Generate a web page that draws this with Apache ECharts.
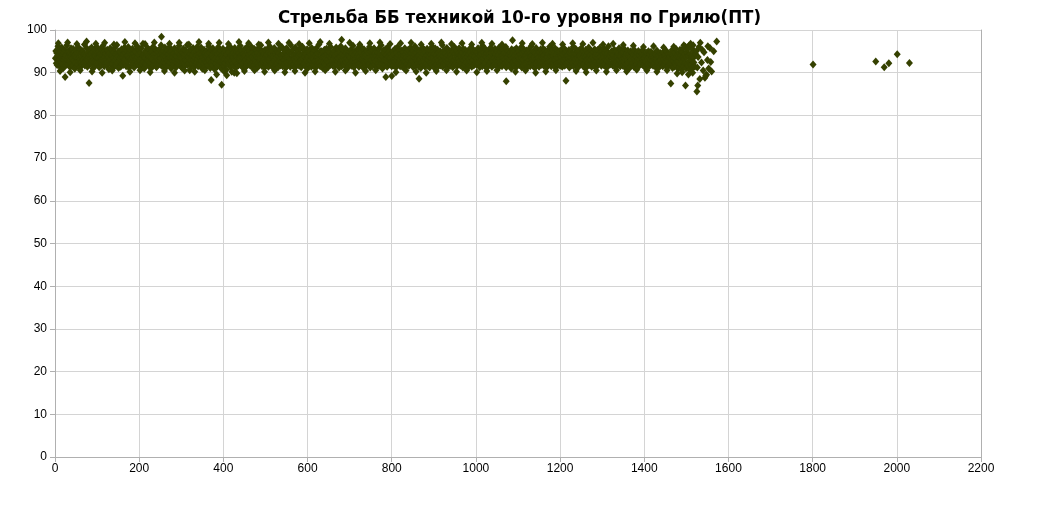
<!DOCTYPE html>
<html><head><meta charset="utf-8">
<script src="https://cdn.jsdelivr.net/npm/echarts@6/dist/echarts.min.js"></script>
<style>html,body{margin:0;padding:0;background:#fff}#c{width:1039px;height:508px}</style>
</head><body><div id="c"></div>
<script>
var titleText = 'Стрельба ББ техникой 10-го уровня по Грилю(ПТ)';
var xTicks = [0,200,400,600,800,1000,1200,1400,1600,1800,2000,2200];
var yTicks = [0,10,20,30,40,50,60,70,80,90,100];

// sequential shots 1..400
var seg1 = [93.4,95.1,92.2,94.6,91.8,93.9,96.2,92.7,94.1,93.0,95.5,91.4,94.8,92.5,93.6,95.9,92.0,94.3,93.2,91.1,
94.7,92.9,95.3,93.5,91.7,94.0,92.4,96.4,93.1,94.9,91.9,93.7,95.0,92.6,94.4,91.3,93.8,95.7,92.1,94.2,
93.3,91.6,95.6,92.8,94.5,93.9,90.9,94.1,92.3,95.2,93.6,91.5,94.7,92.0,96.0,93.4,92.6,94.9,91.2,93.1,
95.4,92.5,93.8,94.6,91.8,95.1,93.0,92.2,94.3,96.6,91.7,93.5,94.0,92.7,95.8,93.2,91.4,94.8,92.9,93.7,
94.2,91.9,95.5,93.3,92.1,94.4,95.9,92.8,93.6,91.0,94.9,93.1,92.4,95.3,93.9,91.6,94.6,92.3,96.1,93.5,
92.0,94.7,93.4,95.0,91.3,93.8,94.3,92.6,95.6,93.0,91.8,94.1,92.9,96.3,93.3,94.8,91.5,93.7,95.2,92.2,
94.5,93.1,91.7,95.4,92.4,94.0,93.6,90.8,94.6,92.7,95.7,93.2,91.9,94.2,93.9,92.1,95.1,93.4,91.2,94.8,
92.6,95.8,93.0,94.3,91.6,93.5,96.5,92.3,94.7,93.8,91.1,95.0,92.8,93.3,94.9,91.4,93.7,95.5,92.0,94.1,
93.6,91.8,94.4,92.5,95.9,93.1,94.6,92.2,91.5,95.2,93.9,92.7,94.0,96.0,91.3,93.4,94.8,92.9,95.3,93.0,
91.7,94.2,92.4,95.6,93.5,92.0,94.5,91.2,93.8,95.0,92.6,94.9,93.2,91.9,96.2,93.6,92.3,94.3,91.6,95.4,
93.1,92.8,94.7,91.4,95.7,93.3,92.1,94.0,96.8,92.5,93.9,91.0,94.6,93.4,95.1,92.2,91.8,94.4,93.0,95.8,
92.7,94.1,91.5,93.7,95.3,92.4,94.8,93.5,91.1,95.0,92.9,93.2,96.1,91.7,94.3,92.6,95.6,93.8,92.0,94.5,
91.3,95.2,93.6,92.3,94.9,93.0,91.9,95.5,92.8,94.2,93.4,96.4,91.6,94.7,92.1,93.9,95.0,92.5,91.2,94.0,
95.9,92.2,93.7,94.6,91.4,93.1,95.4,92.7,94.4,91.8,93.5,96.0,92.4,94.8,93.3,91.0,95.1,92.9,94.1,93.6,
92.0,94.5,91.7,95.7,93.2,92.6,94.0,91.3,93.8,95.3,92.3,94.7,93.0,91.9,96.3,92.8,94.2,93.5,91.5,95.0,
93.4,91.1,94.8,92.5,95.6,93.9,92.1,94.3,91.6,95.2,93.1,92.7,94.6,96.5,91.8,93.6,94.9,92.2,93.3,90.6,
94.4,92.9,95.5,91.4,93.7,94.1,92.3,95.8,93.0,91.2,94.7,92.6,93.5,95.1,91.9,94.0,92.4,96.1,93.2,91.5,
95.3,93.8,92.0,94.5,91.7,93.3,95.9,92.8,94.2,90.9,93.6,94.9,92.1,95.4,93.1,91.3,94.6,92.7,93.9,95.0,
92.4,94.3,91.6,93.0,96.2,92.9,94.7,93.4,91.1,95.5,92.3,93.8,94.1,91.8,95.7,93.5,92.6,94.8,90.8,93.2,
94.9,92.1,95.1,93.7,91.4,94.4,92.8,96.0,93.3,91.9,94.6,92.5,95.2,93.9,91.0,94.0,92.2,93.6,95.6,92.7];

// shots 401..800
var seg2 = [93.2,91.6,94.5,92.3,95.0,93.7,90.7,94.2,92.8,95.6,93.1,91.9,94.8,92.4,93.5,96.1,91.3,94.0,92.7,93.9,
95.3,92.1,93.6,94.7,91.5,93.0,95.8,92.6,94.3,91.2,93.8,94.9,92.0,95.4,93.3,91.7,94.6,92.9,93.4,96.3,
91.8,94.1,92.5,95.2,93.6,92.2,94.4,91.0,93.9,95.5,92.7,94.0,93.1,91.4,95.9,92.3,94.7,93.5,91.9,94.2,
92.8,95.1,93.3,91.6,94.5,92.0,96.0,93.7,91.3,94.8,92.6,93.2,95.6,91.8,94.3,93.0,92.4,95.3,93.8,91.1,
94.6,92.2,93.5,95.7,91.7,94.1,92.9,93.4,96.4,92.1,94.9,91.5,93.6,95.0,92.5,94.4,93.1,91.2,95.4,92.7,
93.9,91.9,94.2,92.4,95.5,93.0,91.4,94.7,92.8,96.2,93.3,92.0,94.5,91.6,93.7,95.2,92.3,94.0,93.6,91.0,
95.8,92.6,93.1,94.3,91.8,93.5,95.1,92.2,94.8,91.3,93.9,94.6,92.7,95.6,93.2,91.7,94.1,92.5,96.0,93.4,
91.5,94.4,92.9,95.3,93.0,92.1,94.9,91.1,93.6,95.7,92.4,94.2,93.8,91.9,95.0,92.8,93.3,94.7,91.4,96.5,
93.1,92.3,94.6,91.7,95.4,93.7,92.0,94.0,93.2,91.2,95.9,92.6,94.5,93.5,91.8,94.8,92.2,95.1,93.9,91.6,
94.3,92.7,95.6,93.0,91.3,94.1,92.5,96.1,93.4,91.9,94.7,92.1,93.8,95.2,91.5,94.4,93.3,92.8,95.5,91.0,
93.6,94.9,92.4,91.8,95.0,93.1,92.9,94.2,91.4,95.8,93.5,92.0,94.6,93.2,91.6,95.3,92.6,94.0,93.9,91.2,
95.7,92.3,93.7,94.5,91.9,93.0,96.6,92.2,94.8,91.5,93.4,95.1,92.7,94.3,93.6,91.1,94.9,92.5,93.8,95.4,
92.1,94.0,91.7,93.3,95.6,92.8,94.4,93.1,91.3,95.0,92.4,93.9,94.7,91.8,96.0,93.5,92.0,94.2,92.9,91.6,
94.6,93.2,95.2,91.4,93.8,94.1,92.3,95.9,93.0,91.9,94.5,92.6,93.4,95.5,91.2,94.8,92.2,93.7,96.2,92.7,
91.5,94.3,92.9,95.3,93.6,92.0,94.0,91.7,93.1,95.7,92.5,94.6,93.3,91.0,95.1,92.8,94.2,93.9,91.8,94.9,
93.5,92.1,95.4,91.6,94.4,93.0,92.7,96.3,93.7,91.3,94.1,92.4,95.0,93.2,91.9,94.7,92.6,93.8,95.6,92.0,
94.3,91.4,93.6,95.2,92.2,94.8,93.1,91.7,95.8,92.9,93.4,94.0,91.1,95.5,92.5,94.5,93.9,92.3,91.6,94.2,
92.8,95.1,93.3,91.8,94.6,92.0,96.0,93.5,91.2,94.9,92.6,93.0,95.3,91.5,94.1,93.7,92.4,95.7,93.2,91.9,
94.4,92.7,93.9,95.0,91.3,93.1,94.7,92.1,95.6,93.6,91.6,94.3,92.9,93.4,96.4,92.2,94.0,91.0,93.8,95.2,
92.5,94.6,93.0,91.7,95.5,92.8,94.1,93.3,91.4,95.9,92.3,93.7,94.8,91.9,95.1,93.5,92.0,94.4,92.6,91.5];

// shots 801..1200
var seg3 = [93.8,92.4,95.0,91.7,94.3,93.1,92.6,95.6,93.4,91.2,94.7,92.9,93.6,96.0,91.9,94.1,92.2,95.3,93.0,91.5,
94.5,93.7,92.0,95.2,91.4,93.3,94.8,92.7,93.9,91.0,95.7,92.5,94.2,93.5,91.8,94.9,92.1,93.2,95.4,92.8,
91.6,94.0,93.4,95.8,92.3,91.9,94.6,93.0,92.6,95.1,91.3,93.7,94.4,92.0,96.2,93.3,91.7,94.7,92.9,93.6,
95.5,92.2,93.9,91.5,94.1,92.8,95.0,93.2,91.1,94.5,92.4,93.8,95.9,91.8,94.3,93.0,92.6,95.3,91.4,94.8,
93.5,92.1,94.0,95.6,91.6,93.1,92.9,94.6,93.7,91.2,95.2,92.3,94.2,93.4,91.9,96.1,92.7,93.6,94.9,91.3,
94.4,92.5,95.7,93.0,91.8,94.1,92.0,93.3,95.4,92.8,91.5,94.7,93.8,92.2,95.0,91.7,93.5,94.3,92.6,96.5,
91.4,93.9,94.8,92.3,95.3,93.2,91.9,94.5,92.7,93.6,95.8,91.1,94.0,92.4,93.1,95.1,92.1,94.6,93.7,91.6,
94.2,92.9,93.4,95.5,91.3,94.9,92.5,93.0,96.0,91.8,94.3,93.5,92.2,95.2,91.5,93.8,94.4,92.0,93.3,95.7,
92.6,94.1,91.7,93.9,95.0,92.3,94.7,93.1,91.2,95.6,92.8,93.6,94.0,91.9,95.3,93.4,92.4,94.5,91.0,93.7,
95.1,92.0,94.3,93.2,91.6,94.8,92.7,95.9,93.5,91.4,94.2,92.9,93.0,95.4,91.7,94.6,93.8,92.1,95.0,92.5,
93.3,91.8,94.9,92.4,95.7,93.6,92.2,94.1,91.3,93.9,95.2,92.6,94.4,93.1,91.5,96.3,92.8,93.4,94.7,91.9,
94.0,92.3,95.5,93.7,91.1,94.5,92.9,93.2,95.1,91.6,94.2,93.5,92.0,95.8,92.5,93.9,94.6,91.4,93.0,95.3,
92.7,94.8,91.8,93.4,95.6,92.1,94.3,93.0,91.7,95.0,92.6,93.6,94.1,91.2,95.9,93.3,92.4,94.9,92.0,93.8,
95.4,91.5,94.0,92.8,93.5,95.2,91.9,94.6,93.1,92.3,96.0,91.3,94.4,92.7,93.7,95.1,92.2,94.2,91.6,93.2,
94.7,92.9,93.9,91.0,95.5,93.4,92.1,94.8,92.5,93.6,95.3,91.7,94.0,93.0,92.6,95.7,91.4,94.5,92.3,93.8,
92.0,95.0,93.3,91.8,94.3,92.8,95.9,93.5,91.2,94.6,92.4,93.1,95.6,91.6,94.9,93.7,92.2,94.1,91.9,95.2,
93.4,91.3,94.7,92.6,95.4,93.0,92.0,94.4,91.5,93.8,96.2,92.3,94.0,93.2,91.7,95.0,92.9,93.6,94.8,91.1,
94.5,92.1,95.8,93.4,91.9,94.2,92.7,93.5,95.1,91.4,94.9,93.0,92.5,95.5,91.8,93.7,94.3,92.2,93.9,95.6,
91.6,94.1,92.8,95.3,93.3,92.0,94.6,91.2,93.6,95.0,92.4,94.4,93.1,91.9,96.1,92.6,94.0,93.8,91.5,94.7,
93.0,95.4,92.3,93.9,91.7,94.5,92.9,95.7,93.2,91.3,94.2,92.1,93.5,95.2,91.8,94.8,93.4,92.5,95.0,91.6];

// shots 1201..1520
var seg4 = [94.1,92.6,93.7,95.5,91.4,94.3,92.2,93.0,95.8,92.8,91.6,94.6,93.3,92.0,95.1,93.8,91.9,94.0,92.5,93.4,
95.3,91.2,94.8,92.9,93.6,95.0,91.7,94.2,93.1,92.3,96.0,91.5,93.9,94.5,92.7,93.2,95.6,91.8,94.4,92.1,
93.5,94.9,91.3,93.0,95.2,92.4,94.1,93.7,91.9,95.7,92.6,93.3,94.7,91.6,95.0,92.0,93.8,94.3,91.1,93.6,
95.4,92.8,94.0,93.2,91.5,94.6,92.3,95.9,93.4,91.8,94.2,92.9,93.1,95.1,91.4,94.5,93.6,92.2,94.8,91.7,
93.0,95.5,92.5,93.9,91.2,94.4,92.7,93.5,95.3,91.9,94.1,93.3,92.1,95.8,92.6,93.7,94.9,91.6,93.2,95.0,
92.4,94.3,91.8,93.6,95.6,92.0,94.7,93.1,91.3,95.2,92.8,93.8,94.5,91.5,96.2,93.4,92.3,94.0,91.9,93.9,
94.6,92.2,95.1,93.3,91.7,94.2,92.5,93.0,95.4,91.4,94.8,93.5,92.0,95.0,92.7,93.6,94.4,91.8,93.1,95.7,
92.9,94.1,91.5,93.8,95.3,92.3,94.6,93.2,91.6,94.9,92.6,93.4,95.5,91.3,94.0,93.7,92.1,94.5,91.9,93.0,
95.2,92.4,93.9,94.3,91.1,93.5,92.8,95.0,93.1,91.7,94.7,92.2,93.6,94.2,91.4,95.4,92.9,93.3,94.0,91.8,
93.7,92.0,94.6,92.7,93.2,95.1,91.5,94.1,93.0,92.3,94.8,91.9,93.5,94.4,92.5,93.1,95.3,91.6,94.2,92.8,
93.4,91.3,94.0,92.6,93.8,94.7,91.8,93.2,92.1,95.0,93.6,91.5,94.3,92.4,93.0,94.9,91.9,93.7,92.7,94.1,
91.6,93.5,92.2,94.5,93.1,91.4,94.2,92.9,93.3,95.2,91.7,93.8,92.5,94.0,91.2,93.6,92.8,94.6,93.0,91.9,
94.3,92.3,93.7,91.5,94.8,93.2,92.0,93.9,91.8,94.1,92.6,93.4,95.0,91.3,93.1,92.7,94.4,91.6,93.5,92.1,
93.8,91.9,94.5,92.4,93.0,95.3,91.1,94.0,92.8,93.6,91.4,94.7,92.2,93.3,95.6,91.7,93.9,92.5,94.2,90.9,
92.7,94.6,91.3,93.4,95.4,92.0,94.1,93.1,90.8,94.9,92.5,93.7,95.8,91.5,93.2,94.4,92.3,96.1,91.0,93.6,
94.8,92.1,95.5,91.6,93.9,96.3,92.6,90.7,94.3,93.0,91.8,95.7,92.9,94.0,91.2,96.4,93.5,92.4,95.0,91.4];

var tail = [[1522,94.3],[1524,95.1],[1526,91.2],[1528,93.7],[1530,96.0],[1533,97.0],[1536,92.4],[1538,95.3],[1540,90.5],[1542,94.8],[1544,88.8],[1548,89.5],[1550,93.0],[1551,96.2],[1553,91.0],[1556,95.8],[1558,92.5],[1560,90.3],[1565,95.0],[1572,97.3]];

var upperEdge = [[8,96.9],[30,97.1],[52,96.7],[75,97.3],[97,96.8],[118,97.0],[140,96.6],[166,97.2],[190,96.9],[214,96.7],[236,97.1],[272,96.8],[295,97.0],[318,96.6],[342,97.2],[365,96.8],[390,97.0],[412,96.7],[437,97.2],[460,96.9],[484,96.6],[507,97.1],[531,96.8],[556,97.0],[580,96.7],[604,96.9],[652,96.8],[700,97.0],[724,96.6],[748,96.9],[772,97.1],[796,96.7],[821,96.9],[846,97.0],[870,96.6],[894,96.8],[918,97.1],[942,96.7],[967,96.9],[990,96.6],[1014,97.0],[1038,96.8],[1062,96.6],[1110,96.9],[1134,96.7],[1158,97.0],[1182,96.8],[1206,96.6],[1230,96.9],[1254,96.7],[1278,97.0],[1302,96.6],[1326,96.8],[1350,96.5],[1374,96.3],[1398,96.0],[1422,96.2],[1446,95.9],[1470,96.1],[1494,96.4],[1510,96.8]];

var lowerEdge = [[12,90.4],[36,90.1],[60,90.6],[88,90.3],[112,90.0],[136,90.5],[178,90.2],[202,90.6],[226,90.1],[260,90.4],[284,90.0],[308,90.5],[332,90.2],[356,90.6],[402,90.3],[426,90.0],[450,90.4],[474,90.6],[498,90.2],[522,90.5],[546,90.1],[570,90.4],[594,90.0],[618,90.3],[642,90.6],[666,90.2],[690,90.5],[714,90.0],[738,90.4],[762,90.6],[810,90.1],[834,90.5],[858,90.3],[882,90.0],[906,90.4],[930,90.6],[954,90.2],[978,90.5],[1002,90.1],[1026,90.4],[1050,90.6],[1094,90.2],[1118,90.5],[1142,90.0],[1166,90.3],[1190,90.6],[1238,90.4],[1262,90.1],[1286,90.5],[1310,90.2],[1334,90.6],[1358,90.3],[1382,90.7],[1406,90.5],[1430,90.2],[1454,90.6],[1478,89.8],[1490,90.1],[1505,89.6],[1515,90.0]];

var outliers = [[24,89.0],[81,87.6],[161,89.3],[253,98.4],[371,88.3],[384,89.6],[396,87.2],[408,89.4],[420,90.2],[432,89.9],[630,97.2],[681,97.7],[786,89.0],[800,89.2],[865,88.6],[1072,88.0],[1087,97.6],[1214,88.1],[1463,87.5],[1498,87.0],[1525,85.6],[1527,87.0],[1532,88.5],[1546,89.3]];

var farPoints = [[1801,91.9],[1950,92.6],[1970,91.3],[1981,92.2],[2001,94.3],[2030,92.3]];

// shot number = position in the sequential record
var seq = seg1.concat(seg2, seg3, seg4);
var allPoints = seq.map(function(v, i){ return [i + 1, v]; }).concat(tail, upperEdge, lowerEdge, outliers, farPoints);

var chart = echarts.init(document.getElementById('c'), null, {renderer:'canvas'});
chart.setOption({
  animation:false,
  backgroundColor:'#ffffff',
  title:{text:titleText,left:'center',top:4,textStyle:{fontFamily:'DejaVu Sans Condensed, DejaVu Sans',fontWeight:'bold',fontSize:18.5,color:'#000'}},
  grid:{left:55,right:58,top:30,bottom:51},
  xAxis:{type:'value',min:0,max:2200,interval:200,
    axisLine:{show:true,lineStyle:{color:'#b0b0b0'}},
    axisTick:{show:true,length:5,lineStyle:{color:'#b0b0b0'}},
    axisLabel:{color:'#000',fontFamily:'Liberation Sans Narrow, Liberation Sans',fontSize:12,margin:6,formatter:function(v){return String(v);}},
    splitLine:{show:true,lineStyle:{color:'#d4d4d4'}}},
  yAxis:[{type:'value',min:0,max:100,interval:10,
    axisLine:{show:true,lineStyle:{color:'#b0b0b0'}},
    axisTick:{show:true,length:5,lineStyle:{color:'#b0b0b0'}},
    axisLabel:{color:'#000',fontFamily:'Liberation Sans',fontSize:12,margin:8},
    splitLine:{show:true,lineStyle:{color:'#d4d4d4'}}},
    {type:'value',min:0,max:100,position:'right',axisLine:{show:true,lineStyle:{color:'#b0b0b0'}},axisTick:{show:false},axisLabel:{show:false},splitLine:{show:false}}],
  series:[{type:'scatter',data:allPoints,symbol:'diamond',symbolSize:[7,8],large:false,
    itemStyle:{color:'#354100',opacity:1}}]
});
</script></body></html>
